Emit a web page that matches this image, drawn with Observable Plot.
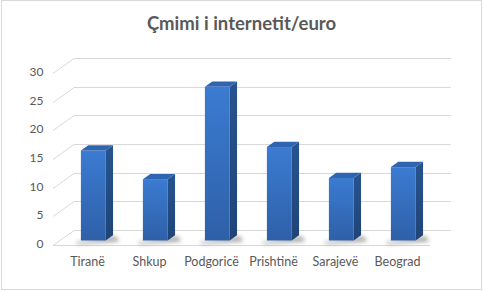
<!DOCTYPE html>
<html><head><meta charset="utf-8">
<script src="https://cdn.jsdelivr.net/npm/d3@7"></script>
<script src="https://cdn.jsdelivr.net/npm/@observablehq/plot@0.6"></script>
<style>
body{margin:0;background:#fff;}
#chart{position:relative;width:483px;height:291px;font-family:Lato,"Open Sans",sans-serif;overflow:hidden;}
#title{position:absolute;left:0;right:0;top:11px;line-height:24px;text-align:center;font-size:18.5px;font-weight:bold;color:#595959;}
#plot{position:absolute;left:0;top:40px;}
#border{position:absolute;left:1px;top:0;width:481px;height:290px;box-sizing:border-box;border:1px solid #d9d9d9;pointer-events:none;}
</style></head>
<body>
<svg width="0" height="0" style="position:absolute">
<defs>
<linearGradient id="gFront" x1="0" y1="0" x2="0" y2="1">
<stop offset="0" stop-color="#3b7bd1"/><stop offset="1" stop-color="#2e60a8"/></linearGradient>
<linearGradient id="gSide" x1="0" y1="0" x2="0" y2="1">
<stop offset="0" stop-color="#27548f"/><stop offset="1" stop-color="#1f4477"/></linearGradient>
<filter id="blur" x="-50%" y="-100%" width="200%" height="300%"><feGaussianBlur stdDeviation="2"/></filter>
</defs>
</svg>
<div id="chart">
<div id="title">Çmimi i internetit/euro</div>
<div id="plot"></div>
<div id="border"></div>
</div>
<script>
const cities = ["Tiranë", "Shkup", "Podgoricë", "Prishtinë", "Sarajevë", "Beograd"];
const prices = [15.7, 10.7, 26.8, 16.3, 10.9, 12.8];
const yTicks = [0, 5, 10, 15, 20, 25, 30];

const data = cities.map((city, i) => ({city, price: prices[i]}));

const DX = 21, DY = -15;      // floor depth vector
const F0 = 0.3, FD = 0.35;    // bar depth start / thickness (fraction of floor depth)
const BAR = 0.4;              // bar width fraction of band

function walls(index, scales, values, dims) {
  const y = scales.y;
  const x0 = dims.marginLeft, x1 = dims.width - dims.marginRight;
  const g = d3.create("svg:g").attr("stroke", "#d9d9d9").attr("stroke-width", 1).attr("fill", "none");
  for (const v of yTicks) {
    const yy = Math.round(y(v)) + 0.5;
    g.append("line").attr("x1", x0 + DX).attr("x2", x1 + DX).attr("y1", yy + DY).attr("y2", yy + DY);
    g.append("line").attr("x1", x0).attr("x2", x0 + DX).attr("y1", yy).attr("y2", yy + DY);
  }
  const y0 = Math.round(y(0)) + 0.5;
  g.append("line").attr("x1", x0).attr("x2", x1).attr("y1", y0).attr("y2", y0);
  return g.node();
}

function bars3d(index, scales, values, dims) {
  const x = scales.x, y = scales.y;
  const bw = x.bandwidth();
  const w = bw * BAR;
  const g = d3.create("svg:g");
  const pts = a => a.map(p => p.join(",")).join(" ");
  for (const i of index) {
    const d = data[i];
    const xl = x(d.city) + (bw - w) / 2 + F0 * DX;
    const xr = xl + w;
    const yb = y(0) + F0 * DY;
    const yt = y(d.price) + F0 * DY;
    const ox = FD * DX, oy = FD * DY;
    // shadow on floor
    g.append("polygon")
      .attr("points", pts([[xl - 6, yb + 2], [xr + ox + 3, yb + oy + 1], [xr + ox + 6, yb + 1], [xl - 3, yb + 3.5]]))
      .attr("fill", "#404040").attr("opacity", 0.45).attr("filter", "url(#blur)");
    // front face
    g.append("rect").attr("x", xl).attr("y", yt).attr("width", w).attr("height", yb - yt)
      .attr("fill", "url(#gFront)");
    // side face
    g.append("polygon")
      .attr("points", pts([[xr, yt], [xr + ox, yt + oy], [xr + ox, yb + oy], [xr, yb]]))
      .attr("fill", "url(#gSide)");
    // top face
    g.append("polygon")
      .attr("points", pts([[xl, yt], [xr, yt], [xr + ox, yt + oy], [xl + ox, yt + oy]]))
      .attr("fill", "#2f65b0");
  }
  return g.node();
}

const chart = Plot.plot({
  width: 483,
  height: 251,
  marginLeft: 53,
  marginRight: 53,
  marginTop: 33,
  marginBottom: 46,
  style: {fontFamily: "Lato, 'Open Sans', sans-serif", color: "#595959", background: "transparent"},
  x: {type: "band", domain: cities, padding: 0, label: null},
  y: {domain: [0, 30], label: null},
  marks: [
    Plot.ruleY(yTicks, {y: d => d, render: walls}),
    Plot.barY(data, {x: "city", y: "price", render: bars3d}),
    Plot.axisY(yTicks, {tickSize: 0, tickPadding: 10, fontSize: 12, dy: -1.5}),
    Plot.axisX({tickSize: 0, tickPadding: 12, fontSize: 12.5})
  ]
});
document.getElementById("plot").appendChild(chart);
</script>
</body></html>
